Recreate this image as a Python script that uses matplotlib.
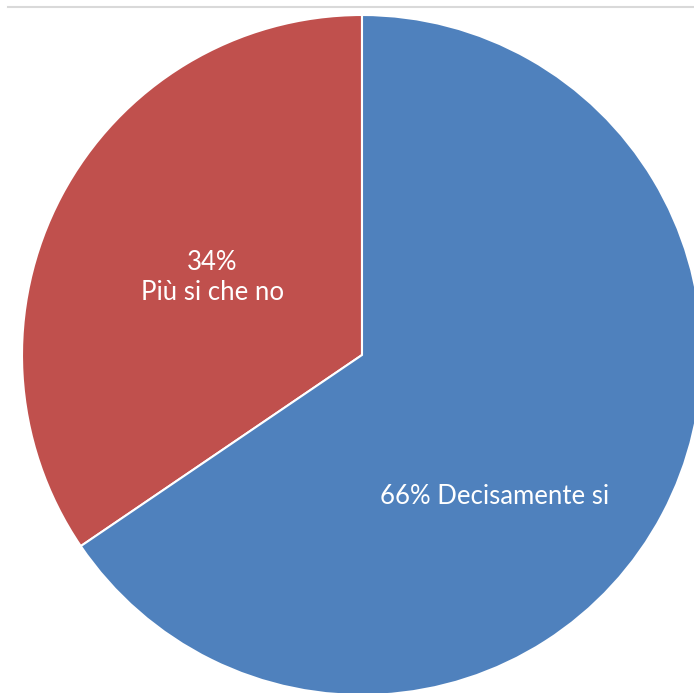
import matplotlib.pyplot as plt
from matplotlib.lines import Line2D

# answers and their share (angle, labels are rounded)
categories = ['Più si che no', 'Decisamente si']
shares = [34.5, 65.5]
colors = ['#C0504D', '#4F81BD']
labels = ['34%\nPiù si che no', '66% Decisamente si']

plt.rcParams['font.family'] = ['Lato', 'DejaVu Sans']

fig = plt.figure(figsize=(6.94, 6.93), dpi=100)
ax = fig.add_axes([0, 0, 1, 1])

# radius is 340 px, centre at (362, 355) px from the top left
r_px = 340
ax.pie(shares, colors=colors, startangle=90, counterclock=True, radius=1,
       wedgeprops=dict(edgecolor='white', linewidth=1.5))
ax.set_xlim(-362 / r_px, (694 - 362) / r_px)
ax.set_ylim(-(693 - 355) / r_px, 355 / r_px)
ax.set_aspect('auto')
ax.axis('off')

# label spots
ax.text(-0.44, 0.228, labels[0], ha='center', va='center', color='white',
        fontsize=18.5, linespacing=1.25)
ax.text(0.39, -0.415, labels[1], ha='center', va='center', color='white',
        fontsize=18.5)

# thin grey rule at the very top
fig.add_artist(Line2D([8 / 694, 1], [1 - 6.5 / 693, 1 - 6.5 / 693],
                      color='#d9d9d9', linewidth=1.5))

fig.savefig('out.png', dpi=100)
